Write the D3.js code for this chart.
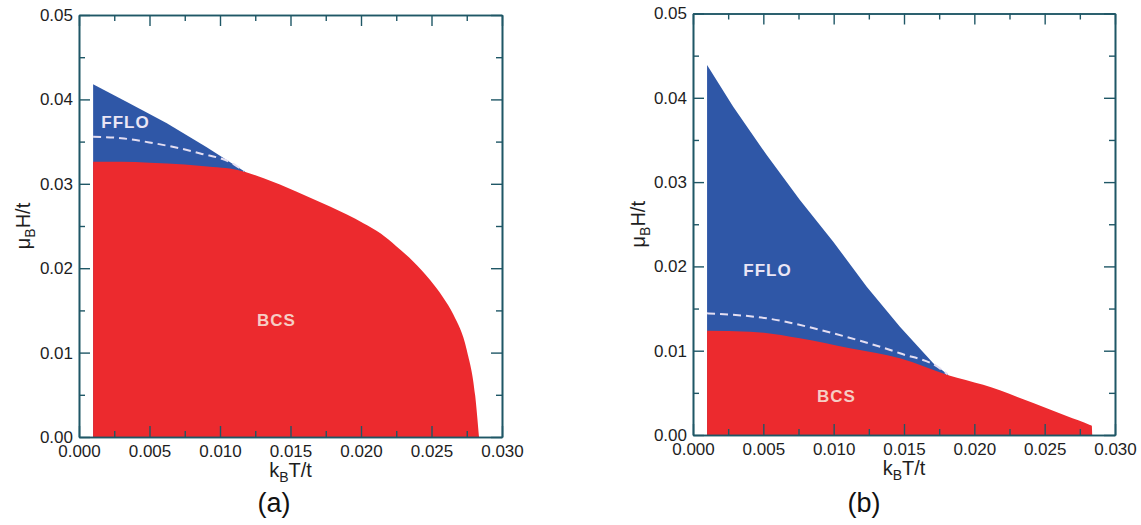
<!DOCTYPE html>
<html>
<head>
<meta charset="utf-8">
<script src="https://cdn.jsdelivr.net/npm/d3@7"></script>
<style>
  html, body { margin: 0; padding: 0; background: #fff; }
  svg { display: block; }
  text { font-family: "Liberation Sans", Arial, Helvetica, sans-serif; }
</style>
</head>
<body>
<svg id="chart" width="1141" height="525"></svg>
<script>
// ---------- Data ----------
// Panel (a)
const aFfloT = [0.001, 0.0035, 0.0062, 0.009, 0.0118];
const aFfloH = [0.0418, 0.0396, 0.0372, 0.0344, 0.0314];
const aBcsT  = [0.001, 0.003, 0.005, 0.0075, 0.0095, 0.0107, 0.0118, 0.0131, 0.0154, 0.0178, 0.0202, 0.0214, 0.0225, 0.0237, 0.0249, 0.0258, 0.02655, 0.0275, 0.0281, 0.02837];
const aBcsH  = [0.0326, 0.0326, 0.0325, 0.0323, 0.0320, 0.0318, 0.0314, 0.03065, 0.0291, 0.0273, 0.0253, 0.0241, 0.0226, 0.0208, 0.0186, 0.0166, 0.0145, 0.0103, 0.0049, 0.0];
const aDashT = [0.001, 0.003, 0.005, 0.0086, 0.0109, 0.0117];
const aDashH = [0.03558, 0.0354, 0.0349, 0.0336, 0.0324, 0.0315];

// Panel (b)
const bFfloT = [0.001, 0.00286, 0.00524, 0.0076, 0.00997, 0.01235, 0.01471, 0.01708, 0.01815];
const bFfloH = [0.0439, 0.03894, 0.0332, 0.02788, 0.02293, 0.01759, 0.01285, 0.0085, 0.00712];
const bBcsT  = [0.001, 0.00405, 0.0076, 0.01116, 0.01471, 0.01815, 0.02063, 0.02419, 0.02656, 0.02822, 0.02835, 0.02838];
const bBcsH  = [0.01238, 0.01226, 0.01147, 0.01028, 0.0091, 0.0071, 0.00595, 0.0038, 0.00225, 0.0012, 0.0011, 0.0];
const bDashT = [0.001, 0.00524, 0.00997, 0.01471, 0.01755, 0.0181];
const bDashH = [0.01443, 0.01384, 0.01206, 0.00969, 0.00791, 0.0072];

// Ticks
const xMajor = [0, 0.005, 0.010, 0.015, 0.020, 0.025, 0.030];
const xMajorLabels = ["0.000", "0.005", "0.010", "0.015", "0.020", "0.025", "0.030"];
const xMinor = [0.0025, 0.0075, 0.0125, 0.0175, 0.0225, 0.0275];
const yMajor = [0, 0.01, 0.02, 0.03, 0.04, 0.05];
const yMajorLabels = ["0.00", "0.01", "0.02", "0.03", "0.04", "0.05"];
const yMinor = [0.005, 0.015, 0.025, 0.035, 0.045];

const panelCaptions = ["(a)", "(b)"];
const regionLabels = ["FFLO", "BCS"];

// ---------- Layout / style ----------
const RED = "#ec2a2e", BLUE = "#2f57a7", AXIS = "#1f5766", TXT = "#1e1e1e";

const panels = [
  { x0: 79, x1: 502, yb: 437, yt: 15,
    fT: aFfloT, fH: aFfloH, bT: aBcsT, bH: aBcsH, dT: aDashT, dH: aDashH,
    ffloPos: [0.0033, 0.0366], bcsPos: [0.0140, 0.0131],
    ytitleX: 30, caption: panelCaptions[0], capX: 274 },
  { x0: 693, x1: 1115, yb: 435, yt: 13.5,
    fT: bFfloT, fH: bFfloH, bT: bBcsT, bH: bBcsH, dT: bDashT, dH: bDashH,
    ffloPos: [0.0053, 0.0189], bcsPos: [0.0102, 0.0039],
    ytitleX: 645, caption: panelCaptions[1], capX: 864 }
];

const svg = d3.select("#chart");

panels.forEach(p => {
  const x = d3.scaleLinear().domain([0, 0.030]).range([p.x0, p.x1]);
  const y = d3.scaleLinear().domain([0, 0.05]).range([p.yb, p.yt]);
  const g = svg.append("g");

  // FFLO region (blue): from the H=0 baseline up to FFLO boundary; BCS drawn over it
  const fData = p.fT.map((t, i) => [t, p.fH[i]]);
  g.append("path")
    .datum(fData)
    .attr("fill", BLUE)
    .attr("d", d3.area().x(d => x(d[0])).y0(y(0)).y1(d => y(d[1])));

  // BCS region (red)
  const bData = p.bT.map((t, i) => [t, p.bH[i]]);
  g.append("path")
    .datum(bData)
    .attr("fill", RED)
    .attr("d", d3.area().x(d => x(d[0])).y0(y(0)).y1(d => y(d[1])).curve(d3.curveMonotoneX));

  // Dashed first-order line
  const dData = p.dT.map((t, i) => [t, p.dH[i]]);
  g.append("path")
    .datum(dData)
    .attr("fill", "none")
    .attr("stroke", "#e4def2")
    .attr("stroke-width", 2)
    .attr("stroke-dasharray", "8,5")
    .attr("d", d3.line().x(d => x(d[0])).y(d => y(d[1])).curve(d3.curveMonotoneX));

  // Region labels
  g.append("text")
    .attr("x", x(p.ffloPos[0])).attr("y", y(p.ffloPos[1]))
    .attr("text-anchor", "middle")
    .attr("font-size", 17).attr("font-weight", "bold")
    .attr("letter-spacing", 1)
    .attr("fill", "#ebe6f5")
    .text(regionLabels[0]);
  g.append("text")
    .attr("x", x(p.bcsPos[0])).attr("y", y(p.bcsPos[1]))
    .attr("text-anchor", "middle")
    .attr("font-size", 17).attr("font-weight", "bold")
    .attr("letter-spacing", 1)
    .attr("fill", "#f6cdc4")
    .text(regionLabels[1]);

  // Axes: major ticks with labels, minor ticks, all inward, on all four sides
  const styleAxis = sel => {
    sel.select(".domain").attr("stroke", AXIS).attr("stroke-width", 1.6);
    sel.selectAll(".tick line").attr("stroke", AXIS).attr("stroke-width", 1.4);
    sel.selectAll(".tick text").attr("fill", TXT).attr("font-size", 17)
      .attr("font-family", "'Liberation Sans', Arial, sans-serif");
  };

  const bottom = g.append("g").attr("transform", `translate(0,${p.yb})`)
    .call(d3.axisBottom(x).tickValues(xMajor).tickSize(-11).tickSizeOuter(0).tickPadding(8)
      .tickFormat((d, i) => xMajorLabels[i]));
  styleAxis(bottom);
  const bottomMinor = g.append("g").attr("transform", `translate(0,${p.yb})`)
    .call(d3.axisBottom(x).tickValues(xMinor).tickSize(-6).tickSizeOuter(0).tickFormat(""));
  styleAxis(bottomMinor);

  const top = g.append("g").attr("transform", `translate(0,${p.yt})`)
    .call(d3.axisTop(x).tickValues(xMajor).tickSize(-11).tickSizeOuter(0).tickFormat(""));
  styleAxis(top);
  const topMinor = g.append("g").attr("transform", `translate(0,${p.yt})`)
    .call(d3.axisTop(x).tickValues(xMinor).tickSize(-6).tickSizeOuter(0).tickFormat(""));
  styleAxis(topMinor);

  const left = g.append("g").attr("transform", `translate(${p.x0},0)`)
    .call(d3.axisLeft(y).tickValues(yMajor).tickSize(-11).tickSizeOuter(0).tickPadding(6)
      .tickFormat((d, i) => yMajorLabels[i]));
  styleAxis(left);
  const leftMinor = g.append("g").attr("transform", `translate(${p.x0},0)`)
    .call(d3.axisLeft(y).tickValues(yMinor).tickSize(-6).tickSizeOuter(0).tickFormat(""));
  styleAxis(leftMinor);

  const right = g.append("g").attr("transform", `translate(${p.x1},0)`)
    .call(d3.axisRight(y).tickValues(yMajor).tickSize(-11).tickSizeOuter(0).tickFormat(""));
  styleAxis(right);
  const rightMinor = g.append("g").attr("transform", `translate(${p.x1},0)`)
    .call(d3.axisRight(y).tickValues(yMinor).tickSize(-6).tickSizeOuter(0).tickFormat(""));
  styleAxis(rightMinor);

  // X axis title: k_B T/t
  const xt = g.append("text")
    .attr("x", (p.x0 + p.x1) / 2).attr("y", p.yb + 40)
    .attr("text-anchor", "middle").attr("font-size", 20).attr("fill", TXT);
  xt.append("tspan").text("k");
  xt.append("tspan").attr("font-size", 14).attr("dy", 5).text("B");
  xt.append("tspan").attr("dy", -5).text("T/t");

  // Y axis title: μ_B H/t
  const yt = g.append("text")
    .attr("transform", `translate(${p.ytitleX},${(p.yb + p.yt) / 2}) rotate(-90)`)
    .attr("text-anchor", "middle").attr("font-size", 20).attr("fill", TXT);
  yt.append("tspan").text("μ");
  yt.append("tspan").attr("font-size", 14).attr("dy", 5).text("B");
  yt.append("tspan").attr("dy", -5).text("H/t");

  // Caption
  g.append("text")
    .attr("x", p.capX).attr("y", 512)
    .attr("text-anchor", "middle")
    .attr("font-family", "'Liberation Serif', 'DejaVu Serif', serif")
    .attr("font-size", 27).attr("fill", "#111")
    .text(p.caption);
});
</script>
</body>
</html>
